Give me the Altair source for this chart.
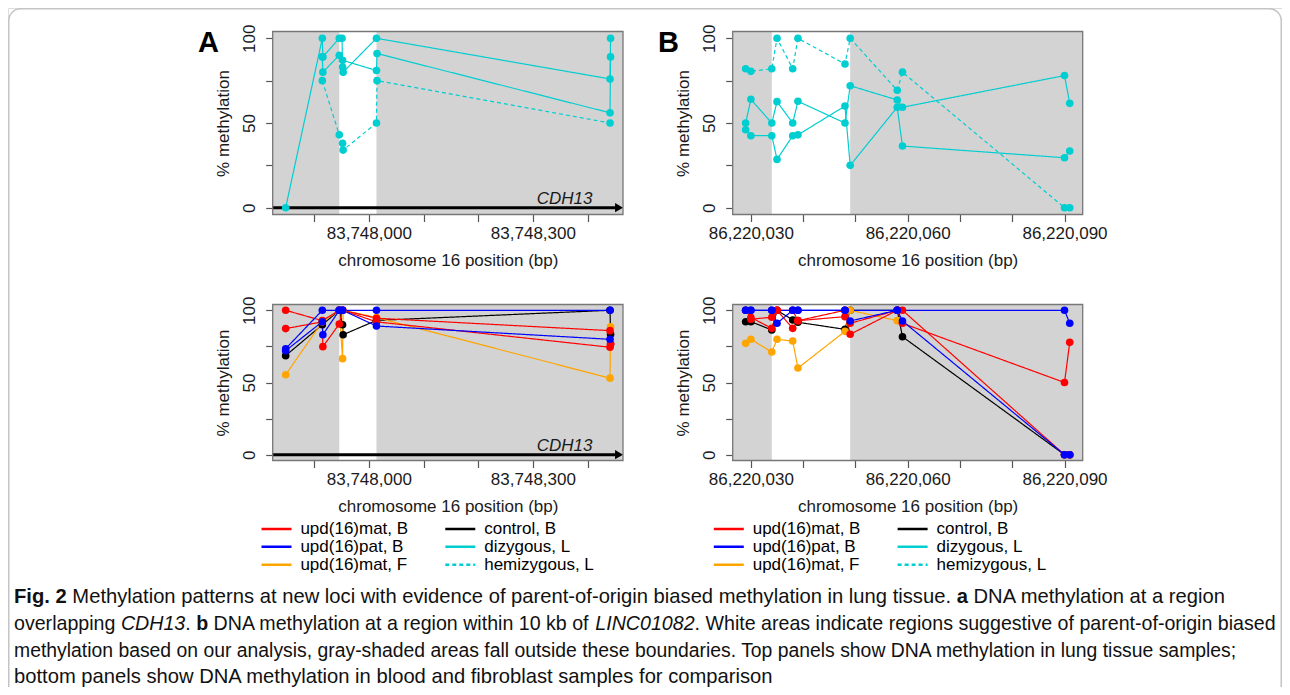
import altair as alt
import pandas as pd

FONT = "Liberation Sans"
TXT = "#1a1a1a"
TICK = "#555555"

# ---------------- groups / styles (legend fills column by column) ----------------
GROUPS = ["upd(16)mat, B", "upd(16)pat, B", "upd(16)mat, F", "control, B", "dizygous, L", "hemizygous, L"]
GROUP_COLORS = ["#FF0000", "#0000FF", "#FFA500", "#000000", "#00CED1", "#00CED1"]
GROUP_DASH = [[1, 0], [1, 0], [1, 0], [1, 0], [1, 0], [4, 3]]

# ---------------- axes ----------------
Y_DOMAIN = [-4, 104]
Y_TICKS = [0, 25, 50, 75, 100]
Y_LABELED = [0, 50, 100]

A_XDOMAIN = [83747824.28, 83748464.72]
A_WHITE = [83747946, 83748014]
A_TICKS = [83747900, 83748000, 83748100, 83748200, 83748300, 83748400]
A_LABELED = [83748000, 83748300]
A_ARROW = [83747824.28, 83748457.5]
A_GENE = ["CDH13"]
A_GENE_X = [83748409]

B_XDOMAIN = [86220026.52, 86220093.48]
B_WHITE = [86220034, 86220049]
B_TICKS = [86220030, 86220040, 86220050, 86220060, 86220070, 86220080, 86220090]
B_LABELED = [86220030, 86220060, 86220090]

# ---------------- panel A, lung ----------------
A_TOP_L1_POS = [83747848, 83747915, 83747916, 83747946, 83747951, 83747952, 83747953, 83748014, 83748441, 83748442]
A_TOP_L1_VAL = [0, 100, 89, 100, 100, 83, 80, 100, 76, 100]
A_TOP_L2_POS = [83747915, 83747916, 83747946, 83747952, 83748014, 83748015, 83748441, 83748442]
A_TOP_L2_VAL = [89, 80, 90, 87, 81, 91, 56, 89]
A_TOP_H_POS = [83747915, 83747946, 83747952, 83747953, 83748014, 83748015, 83748441]
A_TOP_H_VAL = [75, 43, 38, 34, 50, 75, 50]

# ---------------- panel B, lung ----------------
B_POS = [86220029, 86220030, 86220034, 86220035, 86220038, 86220039,
         86220048, 86220049, 86220058, 86220059, 86220090, 86220091]
B_TOP_L1_VAL = [50, 64, 50, 62.6, 50, 62.8, 50, 72, 63.6, 59.3, 78, 61.6]
B_TOP_L2_VAL = [46, 42.5, 42.5, 28.5, 42.5, 43, 60, 25, 59.3, 36.4, 29.5, 33.5]
B_TOP_H_VAL = [82, 80.5, 82, 100, 82, 100, 84.8, 100, 69.3, 80, 0, 0]

# ---------------- panel A, blood / fibroblast ----------------
A_BOT_CTRL_POS = [83747848, 83747915, 83747946, 83747952, 83747953, 83748014, 83748441, 83748442]
A_BOT_CTRL_VAL = [68.6, 90, 100, 90, 83.1, 93, 100, 83.4]
A_BOT_MATF_POS = [83747848, 83747915, 83747946, 83747952, 83747953, 83748014, 83748441, 83748442]
A_BOT_MATF_VAL = [55.4, 92, 100, 66.5, 100, 95, 53, 88.6]
A_BOT_MATB1_POS = [83747848, 83747915, 83747946, 83747952, 83748014, 83748441, 83748442]
A_BOT_MATB1_VAL = [100, 92.8, 100, 100, 94.5, 85.9, 76.5]
A_BOT_MATB2_POS = [83747848, 83747915, 83747916, 83747946, 83747952, 83748014, 83748441, 83748442]
A_BOT_MATB2_VAL = [87.3, 92, 74.8, 90.5, 100, 92, 74.4, 77]
A_BOT_PATB1_POS = [83747848, 83747915, 83747946, 83747952, 83748014, 83748441]
A_BOT_PATB1_VAL = [73.4, 100, 100, 100, 100, 100]
A_BOT_PATB2_POS = [83747848, 83747915, 83747916, 83747946, 83747952, 83748014, 83748441]
A_BOT_PATB2_VAL = [72, 92.1, 83.1, 100, 100, 89.1, 79.9]

# ---------------- panel B, blood / fibroblast ----------------
B_BOT_CTRL_VAL = [92.1, 92.1, 86.4, 100, 93.3, 91.7, 86.8, 100, 100, 81.7, 0, 0]
B_BOT_MATF_POS = [86220029, 86220030, 86220034, 86220035, 86220038, 86220039, 86220048, 86220049, 86220058]
B_BOT_MATF_VAL = [77.1, 79.9, 71.1, 79.9, 78.7, 60, 85.4, 100, 92.8]
B_BOT_MATB1_POS = [86220030, 86220034, 86220035, 86220038, 86220039, 86220048, 86220049, 86220058, 86220059, 86220090, 86220091]
B_BOT_MATB1_VAL = [93.8, 95.2, 100, 87.5, 92.8, 95.6, 91, 100, 91, 50, 77.8]
B_BOT_MATB2_VAL = [100, 95, 87.5, 100, 100, 92.8, 100, 83.4, 100, 100, 0, 0]
B_BOT_PATB1_POS = [86220029, 86220030, 86220034, 86220038, 86220039, 86220048, 86220058, 86220090, 86220091]
B_BOT_PATB1_VAL = [100, 100, 100, 100, 100, 100, 100, 100, 91]
B_BOT_PATB2_VAL = [100, 100, 100, 91, 100, 100, 100, 92.6, 100, 92.6, 0, 0]

# ---------------- caption ----------------
CAPTION = [
    [("Fig. 2", "b"), (" Methylation patterns at new loci with evidence of parent-of-origin biased methylation in lung tissue. ", "n"),
     ("a", "b"), (" DNA methylation at a region", "n")],
    [("overlapping ", "n"), ("CDH13", "i"), (". ", "n"), ("b", "b"), (" DNA methylation at a region within 10 kb of ", "n"),
     ("LINC01082", "i"), (". White areas indicate regions suggestive of parent-of-origin biased", "n")],
    [("methylation based on our analysis, gray-shaded areas fall outside these boundaries. Top panels show DNA methylation in lung tissue samples;", "n")],
    [("bottom panels show DNA methylation in blood and fibroblast samples for comparison", "n")],
]
CAP_X0 = 6
CAP_BASELINES = [595, 622, 649, 675]
CAP_WIDTHS = [1212, 1262, 1226, None]   # line widths (None: same size as line 1)

# Arial / Liberation Sans advance widths (per 1000 em)
_W = {}
for ch, w in zip("abcdefghijklmnopqrstuvwxyz",
                 [556, 556, 500, 556, 556, 278, 556, 556, 222, 222, 500, 222, 833, 556, 556, 556, 556, 333, 500, 278, 556, 500, 722, 500, 500, 500]):
    _W[ch] = w
for ch, w in zip("ABCDEFGHIJKLMNOPQRSTUVWXYZ",
                 [667, 667, 722, 722, 667, 611, 778, 722, 278, 500, 667, 556, 833, 722, 778, 667, 778, 722, 667, 611, 722, 667, 944, 667, 667, 611]):
    _W[ch] = w
for ch in "0123456789":
    _W[ch] = 556
_W.update({" ": 278, ",": 278, ".": 278, ";": 278, ":": 278, "(": 333, ")": 333, "-": 333, "%": 889})
_WB = dict(_W)
_WB.update({"b": 611, "g": 611, "F": 611, "i": 278, "a": 556, "2": 556})


def text_w(s, style):
    tab = _WB if style == "b" else _W
    return sum(tab.get(c, 556) for c in s) / 1000.0


def line_em(line):
    return sum(text_w(s, st) for s, st in line)


BASE_FS = CAP_WIDTHS[0] / line_em(CAPTION[0])

cap_rows = []
for line, base, wid in zip(CAPTION, CAP_BASELINES, CAP_WIDTHS):
    fs = BASE_FS if wid is None else wid / line_em(line)
    cur = CAP_X0
    for seg, st in line:
        lead = len(seg) - len(seg.lstrip(" "))
        cap_rows.append(dict(t=seg.strip(" "), px=cur + text_w(seg[:lead], st) * fs, py=base, st=st, fs=fs))
        cur += text_w(seg, st) * fs
cap_df = pd.DataFrame(cap_rows)


def series_df(series):
    rows = []
    for sample, group, pos, val in series:
        hexc = GROUP_COLORS[GROUPS.index(group)]
        for i, (p, v) in enumerate(zip(pos, val)):
            rows.append(dict(sample=sample, group=group, x=p, y=v, idx=i, hex=hexc))
    return pd.DataFrame(rows)


def legend_spec(lx, ly):
    return alt.Legend(orient="none", legendX=lx, legendY=ly, columns=2, symbolType="stroke",
                      symbolSize=900, symbolStrokeWidth=2.5, labelFont=FONT, labelFontSize=17,
                      labelColor="black", labelOffset=7.4, columnPadding=34.8, rowPadding=0,
                      clipHeight=15.5, padding=0, labelLimit=300)


def panel(series, xdomain, xrange, yrange, white, ticks, labeled, xoff, yoff, legend=None, arrow=False):
    xs = alt.Scale(domain=xdomain, range=xrange, nice=False, zero=False)
    ys = alt.Scale(domain=Y_DOMAIN, range=yrange, nice=False, zero=False)
    xcond = " || ".join(f"datum.value == {v}" for v in labeled)
    ycond = " || ".join(f"datum.value == {v}" for v in Y_LABELED)
    xaxis = alt.Axis(orient="bottom", offset=xoff, values=ticks, format=",d",
                     labelExpr=f"({xcond}) ? datum.label : ''", labelFont=FONT, labelFontSize=17,
                     labelColor=TXT, labelPadding=4, labelFlush=False, labelOverlap=False,
                     tickSize=7, tickColor=TICK, tickWidth=1.2, domain=False, grid=False,
                     title="chromosome 16 position (bp)", titleFont=FONT, titleFontSize=17,
                     titleFontWeight="normal", titleColor=TXT, titlePadding=11)
    yaxis = alt.Axis(orient="left", offset=yoff, values=Y_TICKS,
                     labelExpr=f"({ycond}) ? datum.label : ''", labelAngle=-90, labelAlign="center",
                     labelBaseline="bottom", labelFont=FONT, labelFontSize=17, labelColor=TXT,
                     labelPadding=7, labelOverlap=False, tickSize=7, tickColor=TICK, tickWidth=1.2,
                     domain=False, grid=False, title="% methylation", titleFont=FONT, titleFontSize=17,
                     titleFontWeight="normal", titleColor=TXT, titlePadding=8)
    X = alt.X("x:Q", scale=xs, axis=xaxis)
    Y = alt.Y("y:Q", scale=ys, axis=yaxis)

    shade_df = pd.DataFrame({"x": [xdomain[0], white[1]], "x2": [white[0], xdomain[1]],
                             "y": [Y_DOMAIN[0]] * 2, "y2": [Y_DOMAIN[1]] * 2})
    box_df = pd.DataFrame({"x": [xdomain[0]], "x2": [xdomain[1]], "y": [Y_DOMAIN[0]], "y2": [Y_DOMAIN[1]]})
    df = series_df(series)

    cs = alt.Scale(domain=GROUPS, range=GROUP_COLORS)
    ds = alt.Scale(domain=GROUPS, range=GROUP_DASH)

    layers = [
        alt.Chart(shade_df).mark_rect(color="#D3D3D3").encode(x=X, x2="x2:Q", y=Y, y2="y2:Q"),
    ]
    if arrow:
        arrow_df = pd.DataFrame({"x": [A_ARROW[0]], "x2": [A_ARROW[1]], "y": [0]})
        head_df = pd.DataFrame({"x": [A_ARROW[1]], "y": [0]})
        gene_df = pd.DataFrame({"x": A_GENE_X, "y": [0], "t": A_GENE})
        layers += [
            alt.Chart(arrow_df).mark_rule(strokeWidth=3, color="black").encode(x=X, x2="x2:Q", y=Y),
            alt.Chart(head_df).mark_point(shape="triangle-right", filled=True, size=85, color="black",
                                          opacity=1).encode(x=X, y=Y),
            alt.Chart(gene_df).mark_text(font=FONT, fontSize=17, fontStyle="italic", align="right",
                                         baseline="alphabetic", dy=-4, color=TXT).encode(x=X, y=Y, text="t:N"),
        ]
    if legend is None:
        col = alt.Color("group:N", scale=cs, legend=None)
        dash = alt.StrokeDash("group:N", scale=ds, legend=None)
    else:
        col = alt.Color("group:N", scale=cs, legend=legend, title=None)
        dash = alt.StrokeDash("group:N", scale=ds, legend=legend, title=None)
    layers += [
        alt.Chart(df).mark_line(strokeWidth=1.2).encode(x=X, y=Y, color=col, strokeDash=dash,
                                                        detail="sample:N", order="idx:Q"),
        alt.Chart(df).mark_circle(size=58, opacity=1).encode(x=X, y=Y, color=alt.Color("hex:N", scale=None)),
        alt.Chart(box_df).mark_rect(fillOpacity=0, stroke="#777777", strokeWidth=1.3).encode(
            x=X, x2="x2:Q", y=Y, y2="y2:Q"),
    ]
    return alt.layer(*layers)


A_XR = [264.7, 615.0]
B_XR = [724.7, 1074.7]
TOP_YR = [206.5, 23.5]
BOT_YR = [452.5, 296.5]
H = 679
W = 1274

a_top = panel([("L1", "dizygous, L", A_TOP_L1_POS, A_TOP_L1_VAL),
               ("L2", "dizygous, L", A_TOP_L2_POS, A_TOP_L2_VAL),
               ("H", "hemizygous, L", A_TOP_H_POS, A_TOP_H_VAL)],
              A_XDOMAIN, A_XR, TOP_YR, A_WHITE, A_TICKS, A_LABELED, TOP_YR[0] - H, -A_XR[0], arrow=True)
b_top = panel([("L1", "dizygous, L", B_POS, B_TOP_L1_VAL),
               ("L2", "dizygous, L", B_POS, B_TOP_L2_VAL),
               ("H", "hemizygous, L", B_POS, B_TOP_H_VAL)],
              B_XDOMAIN, B_XR, TOP_YR, B_WHITE, B_TICKS, B_LABELED, TOP_YR[0] - H, -B_XR[0])
a_bot = panel([("K", "control, B", A_BOT_CTRL_POS, A_BOT_CTRL_VAL),
               ("F", "upd(16)mat, F", A_BOT_MATF_POS, A_BOT_MATF_VAL),
               ("M1", "upd(16)mat, B", A_BOT_MATB1_POS, A_BOT_MATB1_VAL),
               ("M2", "upd(16)mat, B", A_BOT_MATB2_POS, A_BOT_MATB2_VAL),
               ("P1", "upd(16)pat, B", A_BOT_PATB1_POS, A_BOT_PATB1_VAL),
               ("P2", "upd(16)pat, B", A_BOT_PATB2_POS, A_BOT_PATB2_VAL)],
              A_XDOMAIN, A_XR, BOT_YR, A_WHITE, A_TICKS, A_LABELED, BOT_YR[0] - H, -A_XR[0],
              legend=legend_spec(252, 513), arrow=True)
b_bot = panel([("K", "control, B", B_POS, B_BOT_CTRL_VAL),
               ("F", "upd(16)mat, F", B_BOT_MATF_POS, B_BOT_MATF_VAL),
               ("M1", "upd(16)mat, B", B_BOT_MATB1_POS, B_BOT_MATB1_VAL),
               ("M2", "upd(16)mat, B", B_POS, B_BOT_MATB2_VAL),
               ("P1", "upd(16)pat, B", B_BOT_PATB1_POS, B_BOT_PATB1_VAL),
               ("P2", "upd(16)pat, B", B_POS, B_BOT_PATB2_VAL)],
              B_XDOMAIN, B_XR, BOT_YR, B_WHITE, B_TICKS, B_LABELED, BOT_YR[0] - H, -B_XR[0],
              legend=legend_spec(704.3, 513))

# decorations
frame = alt.Chart(pd.DataFrame({"k": [0]})).mark_rect(
    fillOpacity=0, stroke="#c4c4c4", strokeWidth=1.5, cornerRadius=12).encode(
    x=alt.value(0.75), x2=alt.value(W - 0.75), y=alt.value(0.75), y2=alt.value(H + 40))

letters_df = pd.DataFrame({"t": ["A", "B"], "px": [190, 650], "py": [44, 44]})
letters = alt.Chart(letters_df).mark_text(font=FONT, fontSize=29, fontWeight="bold", align="left",
                                          baseline="alphabetic", color="black").encode(
    x=alt.X("px:Q", scale=None, axis=None), y=alt.Y("py:Q", scale=None, axis=None), text="t:N")


def cap_layers(style):
    out = []
    d = cap_df[cap_df.st == style]
    for fs in sorted(d.fs.unique()):
        dd = d[d.fs == fs]
        kw = dict(font=FONT, fontSize=float(fs), align="left", baseline="alphabetic", color="#111111")
        if style == "b":
            kw["fontWeight"] = "bold"
        if style == "i":
            kw["fontStyle"] = "italic"
        out.append(alt.Chart(dd).mark_text(**kw).encode(
            x=alt.X("px:Q", scale=None, axis=None), y=alt.Y("py:Q", scale=None, axis=None), text="t:N"))
    return out


chart = alt.layer(
    frame, a_top, b_top, a_bot, b_bot, letters, *cap_layers("n"), *cap_layers("b"), *cap_layers("i")
).resolve_scale(
    x="independent", y="independent", color="independent", strokeDash="independent"
).properties(
    width=W, height=H, autosize=alt.AutoSizeParams(type="none"), padding=0
).configure_view(strokeWidth=0).configure(background="white")

chart.save("out.html", embed_options={"renderer": "svg", "actions": False})
